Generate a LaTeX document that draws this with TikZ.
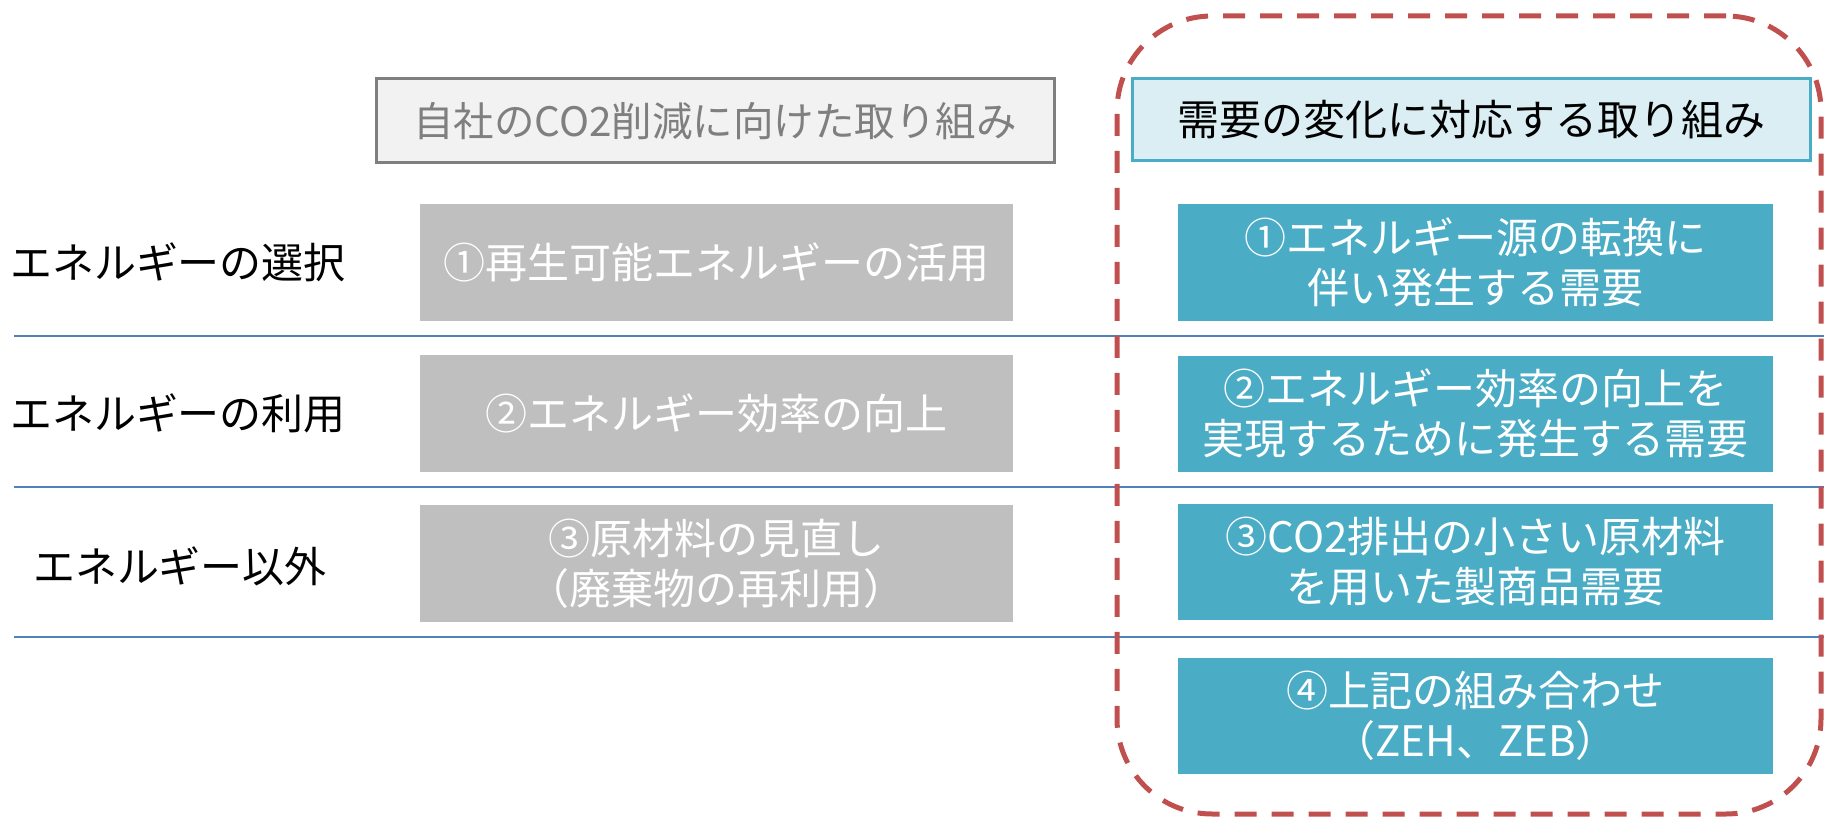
\documentclass[tikz,border=0pt]{standalone}
\usepackage{fontspec}
\setmainfont{Noto Sans CJK JP}
\definecolor{hdrgray}{HTML}{7F7F7F}
\definecolor{hdrfill}{HTML}{F2F2F2}
\definecolor{boxgray}{HTML}{BFBFBF}
\definecolor{teal}{HTML}{4BACC6}
\definecolor{tealfill}{HTML}{DAEEF3}
\definecolor{sepblue}{HTML}{4F81BD}
\definecolor{dashred}{HTML}{C0504D}
\tikzset{
  txt/.style={font=\fontsize{42}{50}\selectfont, inner sep=0pt, align=center},
  graybox/.style={txt, fill=boxgray, text=white, minimum width=593pt, minimum height=117pt},
  tealbox/.style={txt, fill=teal, text=white, minimum width=595pt, minimum height=116pt},
  lefthdr/.style={txt, font=\fontsize{40.5}{50}\selectfont, fill=hdrfill, draw=hdrgray, line width=3pt, text=hdrgray, minimum width=678pt, minimum height=84pt},
  righthdr/.style={txt, fill=tealfill, draw=teal, line width=3pt, text=black, minimum width=678pt, minimum height=82pt},
  rowlabel/.style={txt, text=black},
  sepline/.style={draw=sepblue, line width=1.8pt},
  frame/.style={draw=dashred, line width=5pt, dash pattern=on 22pt off 15pt, rounded corners=95pt, minimum width=704pt, minimum height=798pt, inner sep=0pt}
}
\begin{document}
\begin{tikzpicture}[x=1pt,y=-1pt]
\useasboundingbox (0,0) rectangle (1824,821);
% separators
\coordinate (s1a) at (14,336); \coordinate (s1b) at (1824,336);
\coordinate (s2a) at (14,487); \coordinate (s2b) at (1824,487);
\coordinate (s3a) at (14,637); \coordinate (s3b) at (1824,637);
\draw[sepline] (s1a) -- (s1b);
\draw[sepline] (s2a) -- (s2b);
\draw[sepline] (s3a) -- (s3b);
% headers
\node[lefthdr] (hl) at (715,121) {自社のCO2削減に向けた取り組み};
\node[righthdr] (hr) at (1471,120) {需要の変化に対応する取り組み};
% row labels
\node[rowlabel] (l1) at (178,262) {エネルギーの選択};
\node[rowlabel] (l2) at (178,413) {エネルギーの利用};
\node[rowlabel] (l3) at (180,566) {エネルギー以外};
% gray boxes
\node[graybox] (g1) at (716.5,262.5) {①再生可能エネルギーの活用};
\node[graybox] (g2) at (716.5,413.5) {②エネルギー効率の向上};
\node[graybox] (g3) at (716.5,563.5) {③原材料の見直し\\（廃棄物の再利用）};
% teal boxes
\node[tealbox] (t1) at (1475.5,262.5) {①エネルギー源の転換に\\伴い発生する需要};
\node[tealbox] (t2) at (1475.5,413.5) {②エネルギー効率の向上を\\実現するために発生する需要};
\node[tealbox] (t3) at (1475.5,562) {③CO2排出の小さい原材料\\を用いた製商品需要};
\node[tealbox] (t4) at (1475.5,716) {④上記の組み合わせ\\（ZEH、ZEB）};
% dashed frame
\node[frame] (fr) at (1469,415) {};
\end{tikzpicture}
\end{document}
